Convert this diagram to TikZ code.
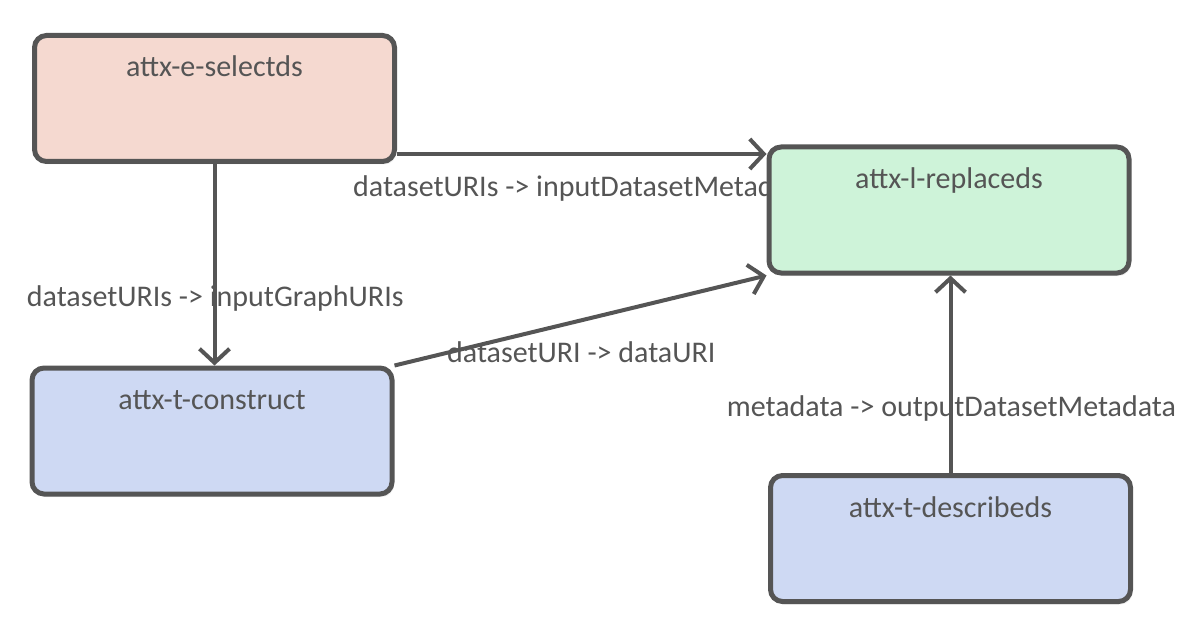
\documentclass[tikz,border=0pt]{standalone}
\usepackage{fontspec}
\setmainfont{Carlito}
\usetikzlibrary{arrows.meta}
\usetikzlibrary{shadows}
\definecolor{edge}{HTML}{555555}
\definecolor{extractfill}{HTML}{F5D9D0}
\definecolor{loadfill}{HTML}{CEF3D9}
\definecolor{transformfill}{HTML}{CED9F3}
\tikzstyle{box}=[draw=edge, line width=5pt, rounded corners=12pt, minimum width=360pt, inner sep=0, text height=41.5pt, text depth=84.5pt, text=edge, font=\fontsize{30}{36}\selectfont, drop shadow={shadow xshift=2pt, shadow yshift=-3pt, opacity=0.12}]
\tikzstyle{flow}=[draw=edge, line width=4pt, -{Straight Barb[length=14pt, width=30pt]}]
\tikzstyle{mapping}=[anchor=base west, inner sep=0, text=edge, font=\fontsize{30}{36}\selectfont]

\begin{document}
\begin{tikzpicture}[x=1pt, y=-1pt]
          \useasboundingbox (0, 0) rectangle (1198, 636);

          % labels go first, the boxes cover them
          \node[mapping] (uris_meta) at (353, 196.7) {datasetURIs -> inputDatasetMetadata};
          \node[mapping] (uris_graph) at (26.7, 306.7) {datasetURIs -> inputGraphURIs};
          \node[mapping] (uri_data) at (447, 362) {datasetURI -> dataURI};
          \node[mapping] (meta_out) at (726.7, 416.7) {metadata -> outputDatasetMetadata};

          \node[box, fill=extractfill] (selectds) at (214.5, 98.5) {attx-e-selectds};
          \node[box, fill=loadfill] (replaceds) at (949, 210) {attx-l-replaceds};
          \node[box, fill=transformfill] (construct) at (212, 431) {attx-t-construct};
          \node[box, fill=transformfill] (describeds) at (950.5, 538.5) {attx-t-describeds};

          \draw[flow] ([yshift=-55.5pt]selectds.east) -- ([yshift=56pt]replaceds.west);
          \draw[flow] (selectds.south) -- (selectds.south |- construct.north);
          \draw[flow] (construct.north east) -- (replaceds.south west);
          \draw[flow] (describeds.north) -- (describeds.north |- replaceds.south);
        \end{tikzpicture}
\end{document}
